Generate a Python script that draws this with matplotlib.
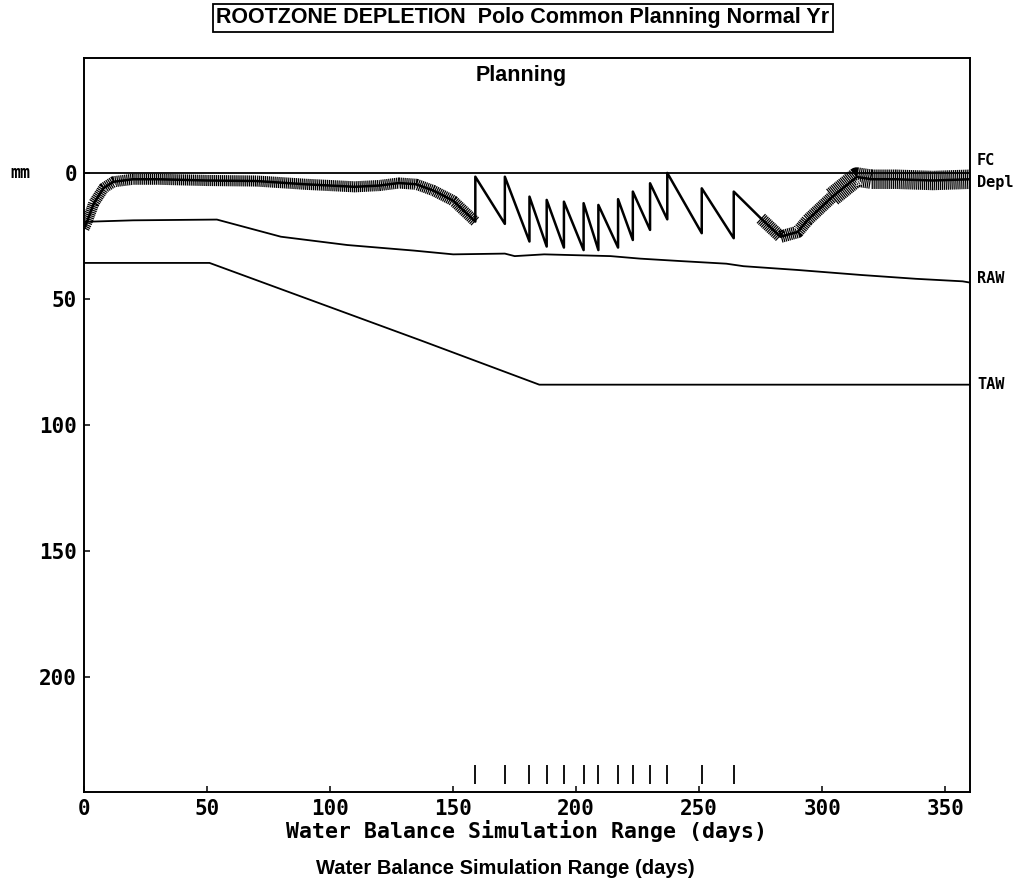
#!/usr/bin/env python3
"""Rootzone depletion chart (CROPWAT-style water balance), redrawn with matplotlib."""

import matplotlib

matplotlib.use("Agg")
import matplotlib.pyplot as plt
import matplotlib.transforms as mtransforms

# --- data ------------------------------------------------------------------
# soil water depletion (mm below field capacity); pairs at the same day are
# the value just before and just after an irrigation
depl_days = [0, 1, 4, 8, 12, 20, 30, 50, 70, 90, 110, 120, 128, 135, 142, 150,
             159, 159, 171, 171, 181, 181, 188, 188, 195, 195, 203, 203,
             209, 209, 217, 217, 223, 223, 230, 230, 237, 237, 251, 251,
             264, 264, 275, 283, 290, 294, 304, 314, 320, 330, 345, 360]
depl_mm = [22, 20, 12, 6, 3.5, 2.5, 2.5, 3, 3.2, 4.5, 5.5, 5, 4, 4.5, 7, 11,
           19.3, 1.5, 20.2, 1.5, 27.2, 9.4, 29.2, 10.7, 29.6, 11.4, 30.6, 12,
           30.6, 12.7, 29.6, 10.4, 26.6, 7.4, 22.6, 4.1, 18.4, 0, 23.9, 6.1,
           25.9, 7.4, 18, 25.3, 23.4, 18.7, 9.5, 1.6, 2.5, 2.5, 3, 2.5]

raw_days = [0, 20, 54, 80, 107, 134, 150, 171, 175, 187, 214, 226, 243, 261,
            268, 290, 316, 338, 357, 360]
raw_mm = [19.4, 18.8, 18.5, 25.3, 28.6, 30.8, 32.3, 32, 33, 32.3, 33, 34, 35,
          36, 37, 38.5, 40.5, 42, 43, 43.5]

taw_days = [0, 51, 137, 185, 360]
taw_mm = [35.7, 35.7, 66.5, 84, 84]

fc_days = [0, 360]
fc_mm = [0, 0]

irrig_days = [159, 171, 181, 188, 195, 203, 209, 217, 223, 230, 237, 251, 264]

x_ticks = [0, 50, 100, 150, 200, 250, 300, 350]
y_ticks = [0, 50, 100, 150, 200]

right_labels = ["FC", "Depl", "RAW", "TAW"]
right_label_mm = [-4.8, 3.6, 42, 84]

TITLE = "ROOTZONE DEPLETION  Polo Common Planning Normal Yr"
SUBTITLE = "Planning"
XLABEL = "Water Balance Simulation Range (days)"

MONO = ["DejaVu Sans Mono"]
NARROW = ["Liberation Sans", "DejaVu Sans"]

plt.rcParams["lines.scale_dashes"] = False

fig = plt.figure(figsize=(10.34, 8.82), dpi=100)
ax = fig.add_axes([84 / 1034, 1 - 792 / 882, (970 - 84) / 1034, (792 - 58) / 882])

ax.set_xlim(0, 360)
ax.set_ylim(245.6, -45.6)

# reference lines
ax.plot(fc_days, fc_mm, color="black", lw=1.3)
ax.plot(raw_days, raw_mm, color="black", lw=1.3)
ax.plot(taw_days, taw_mm, color="black", lw=1.3)

# depletion: thin line throughout, hatched band where the daily wobble shows
ax.plot(depl_days, depl_mm, color="black", lw=1.8)
hatch = dict(color="black", dashes=(0.9, 0.5), dash_capstyle="butt")
i_a = depl_days.index(159) + 1
i_b = depl_days.index(275)
i_c = depl_days.index(304)
ax.plot(depl_days[:i_a], depl_mm[:i_a], lw=8, **hatch)
ax.plot(depl_days[i_b:i_c + 1], depl_mm[i_b:i_c + 1], lw=9, **hatch)
ax.plot(depl_days[i_c:], depl_mm[i_c:], lw=14, **hatch)

# irrigation events along the bottom
ax.vlines(irrig_days, 235, 242.5, color="black", lw=1.3)

# axes styling
for side in ax.spines.values():
    side.set_linewidth(1.4)
ax.set_xticks(x_ticks)
ax.set_yticks(y_ticks)
ax.tick_params(direction="in", length=4, width=1.1, pad=5)
for lab in ax.get_xticklabels() + ax.get_yticklabels():
    lab.set_family(MONO)
    lab.set_fontweight("bold")
    lab.set_fontsize(15)

ax.set_xlabel(XLABEL, family=MONO, fontweight="bold", fontsize=15.5, labelpad=1)

lab_tr = mtransforms.blended_transform_factory(ax.transAxes, ax.transData)
ax.text(-0.083, 0, "mm", transform=lab_tr, family=MONO, fontweight="bold",
        fontsize=12, ha="left", va="center")

for name, mm in zip(right_labels, right_label_mm):
    ax.text(1.008, mm, name, transform=lab_tr, family=MONO, fontweight="bold",
            fontsize=11, ha="left", va="center")

fig.text(521 / 1034, 1 - 75 / 882, SUBTITLE, family=NARROW,
         fontweight="bold", fontsize=15.5, ha="center", va="center")

fig.text(523 / 1034, 1 - 18 / 882, TITLE, family=NARROW, fontweight="bold",
         fontsize=15.5, ha="center", va="center",
         bbox=dict(boxstyle="square,pad=0.15", facecolor="white", edgecolor="black", lw=1.3))

fig.text(505 / 1034, 1 - 869 / 882, XLABEL, family=NARROW, fontweight="bold",
         fontsize=14.5, ha="center", va="center")

fig.savefig("out.png", dpi=100)
